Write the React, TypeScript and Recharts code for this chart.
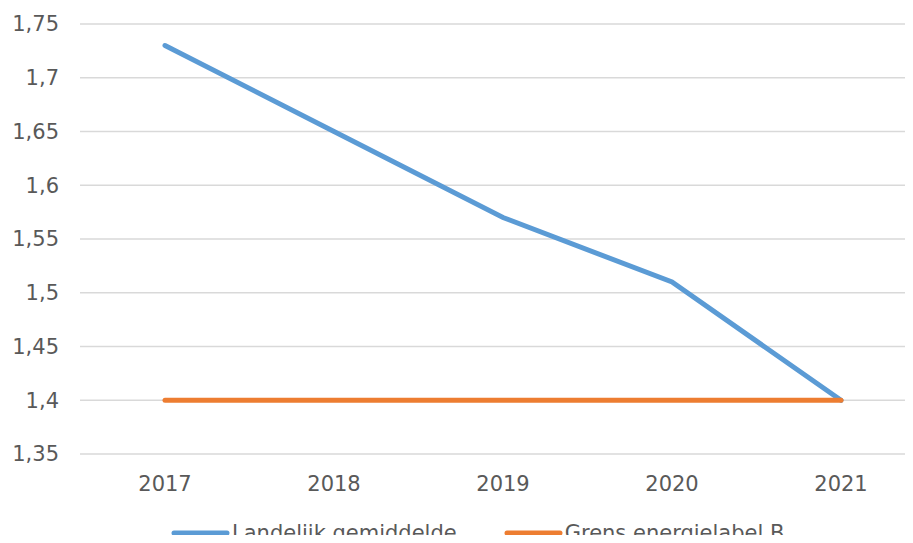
import { CartesianGrid, Legend, Line, LineChart, XAxis, YAxis } from "recharts";

const years = [2017, 2018, 2019, 2020, 2021];
const landelijk = [1.73, 1.65, 1.57, 1.51, 1.4];
const grensB = [1.4, 1.4, 1.4, 1.4, 1.4];
const yTicks = [1.35, 1.4, 1.45, 1.5, 1.55, 1.6, 1.65, 1.7, 1.75];

const BLUE = "#5B9BD5";
const ORANGE = "#ED7D31";
const TEXT = "#595959";
const FONT = "'DejaVu Sans', Verdana, sans-serif";

const data = years.map((year, i) => ({
  year,
  landelijk: landelijk[i],
  grens: grensB[i],
}));

const fmt = (v: number) => String(v).replace(".", ",");

function ChartLegend() {
  const items = [
    { label: "Landelijk gemiddelde", color: BLUE },
    { label: "Grens energielabel B", color: ORANGE },
  ];
  return (
    <div
      style={{
        display: "flex",
        paddingLeft: 169,
        paddingTop: 18,
        gap: 45,
        fontFamily: FONT,
        fontSize: 21,
        color: TEXT,
        lineHeight: "22px",
      }}
    >
      {items.map((it) => (
        <div key={it.label} style={{ display: "flex", alignItems: "center" }}>
          <svg width={63} height={10} style={{ display: "block" }}>
            <line x1={5} y1={5} x2={58} y2={5} stroke={it.color} strokeWidth={5} strokeLinecap="round" />
          </svg>
          <span>{it.label}</span>
        </div>
      ))}
    </div>
  );
}

export default function App() {
  return (
    <div style={{ margin: -8, width: 913, height: 543, overflow: "hidden", background: "#fff" }}>
      <LineChart width={913} height={543} data={data} margin={{ top: 24, right: 0, left: 0, bottom: 0 }}>
        <CartesianGrid stroke="#D9D9D9" strokeWidth={1.5} vertical={false} />
        <XAxis
          dataKey="year"
          type="number"
          domain={[2016.497, 2021.426]}
          allowDataOverflow
          tickCount={0}
          ticks={years}
          axisLine={false}
          tickLine={false}
          tickSize={0}
          tickMargin={22}
          height={50}
          tick={{ fill: TEXT, fontSize: 21, fontFamily: FONT }}
        />
        <YAxis
          domain={[1.35, 1.75]}
          ticks={yTicks}
          width={80}
          axisLine={false}
          tickLine={false}
          tickSize={0}
          tickMargin={21}
          tickFormatter={fmt}
          tick={{ fill: TEXT, fontSize: 21, fontFamily: FONT }}
        />
        <Legend verticalAlign="bottom" height={39} wrapperStyle={{ left: 0, width: 913 }} content={() => <ChartLegend />} />
        <Line
          type="linear"
          dataKey="landelijk"
          name="Landelijk gemiddelde"
          stroke={BLUE}
          strokeWidth={5}
          strokeLinecap="round"
          dot={false}
          activeDot={false}
          isAnimationActive={false}
        />
        <Line
          type="linear"
          dataKey="grens"
          name="Grens energielabel B"
          stroke={ORANGE}
          strokeWidth={5}
          strokeLinecap="round"
          dot={false}
          activeDot={false}
          isAnimationActive={false}
        />
      </LineChart>
    </div>
  );
}
